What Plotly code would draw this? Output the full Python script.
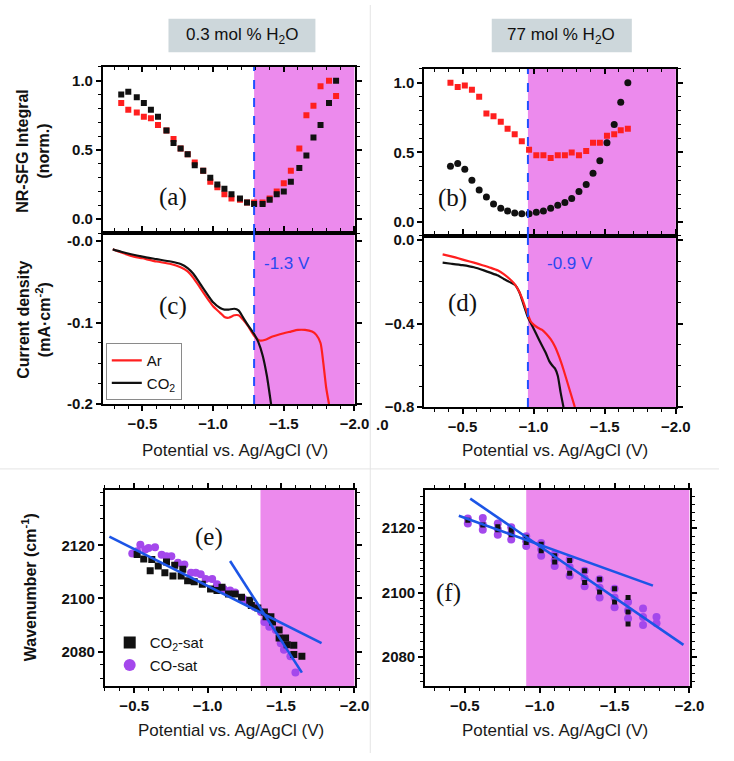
import plotly.graph_objects as go

W, H = 734, 761

# ---------------- data ----------------
# (a) NR-SFG integral, 0.3 mol % H2O
a_pot = [-0.35, -0.40, -0.46, -0.51, -0.56, -0.61, -0.67, -0.72, -0.77, -0.82, -0.87, -0.93, -0.98, -1.03,
         -1.08, -1.13, -1.19, -1.24, -1.29, -1.35, -1.40, -1.45, -1.50, -1.55, -1.61, -1.66, -1.71, -1.76,
         -1.82, -1.87]
a_co2 = [0.90, 0.92, 0.88, 0.84, 0.79, 0.74, 0.64, 0.55, 0.51, 0.47, 0.39, 0.35, 0.30, 0.25,
         0.22, 0.18, 0.15, 0.12, 0.11, 0.11, 0.14, 0.18, 0.20, 0.27, 0.37, 0.46, 0.59, 0.68, 0.84, 1.00]
a_ar = [0.84, 0.79, 0.77, 0.74, 0.73, 0.68, 0.64, 0.58, 0.51, 0.47, 0.41, 0.35, 0.27, 0.23,
        0.18, 0.15, 0.14, 0.12, 0.12, 0.12, 0.15, 0.20, 0.26, 0.35, 0.51, 0.75, 0.82, 0.96, 1.00, 0.89]

# (b) NR-SFG integral, 77 mol % H2O
b_pot = [-0.415, -0.466, -0.516, -0.566, -0.617, -0.668, -0.718, -0.769, -0.817, -0.867, -0.917, -0.968,
         -1.019, -1.069, -1.120, -1.170, -1.220, -1.268, -1.319, -1.370, -1.418, -1.466, -1.516, -1.567,
         -1.613, -1.663]
b_ar = [1.00, 0.97, 0.98, 0.95, 0.90, 0.78, 0.76, 0.72, 0.67, 0.63, 0.58, 0.52, 0.48, 0.48, 0.46, 0.48,
        0.48, 0.50, 0.48, 0.51, 0.57, 0.57, 0.62, 0.63, 0.66, 0.67]
b_co2 = [0.40, 0.42, 0.38, 0.30, 0.23, 0.18, 0.13, 0.10, 0.08, 0.065, 0.06, 0.06, 0.07, 0.08, 0.10, 0.12,
         0.14, 0.17, 0.22, 0.27, 0.35, 0.44, 0.57, 0.70, 0.86, 1.00]

# (c) current density, 0.3 mol % H2O
c_co2_pot = [-0.29, -0.35, -0.42, -0.50, -0.60, -0.70, -0.77, -0.82, -0.86, -0.90, -0.93, -0.97, -1.00,
             -1.05, -1.08, -1.11, -1.15, -1.18, -1.20, -1.22, -1.25, -1.29, -1.32, -1.35, -1.38, -1.41]
c_co2_j = [-0.010, -0.013, -0.016, -0.019, -0.022, -0.025, -0.028, -0.033, -0.040, -0.050, -0.058,
           -0.068, -0.075, -0.082, -0.084, -0.084, -0.083, -0.085, -0.090, -0.096, -0.104, -0.114,
           -0.124, -0.140, -0.165, -0.200]
c_ar_pot = [-0.29, -0.35, -0.42, -0.50, -0.60, -0.70, -0.77, -0.82, -0.86, -0.90, -0.93, -0.97, -1.00,
            -1.05, -1.08, -1.11, -1.15, -1.18, -1.21, -1.25, -1.29, -1.33, -1.37, -1.42, -1.50, -1.55,
            -1.60, -1.65, -1.70, -1.73, -1.76, -1.78, -1.80, -1.82]
c_ar_j = [-0.010, -0.014, -0.018, -0.021, -0.025, -0.028, -0.032, -0.037, -0.045, -0.055, -0.063,
          -0.073, -0.080, -0.088, -0.093, -0.094, -0.091, -0.091, -0.096, -0.105, -0.116, -0.122,
          -0.121, -0.117, -0.113, -0.111, -0.109, -0.109, -0.111, -0.115, -0.125, -0.150, -0.180, -0.200]

# (d) current density, 77 mol % H2O
d_co2_pot = [-0.36, -0.42, -0.50, -0.58, -0.65, -0.70, -0.75, -0.79, -0.83, -0.87, -0.90, -0.93, -0.96,
             -0.99, -1.04, -1.085, -1.11, -1.13, -1.15, -1.17, -1.19, -1.21]
d_co2_j = [-0.108, -0.113, -0.120, -0.130, -0.145, -0.157, -0.170, -0.186, -0.200, -0.215, -0.25,
           -0.31, -0.37, -0.41, -0.48, -0.54, -0.58, -0.60, -0.615, -0.65, -0.73, -0.80]
d_ar_pot = [-0.36, -0.42, -0.47, -0.52, -0.58, -0.64, -0.70, -0.75, -0.79, -0.83, -0.86, -0.89, -0.92,
            -0.95, -0.98, -1.00, -1.03, -1.06, -1.09, -1.12, -1.15, -1.18, -1.21, -1.25, -1.29]
d_ar_j = [-0.068, -0.078, -0.087, -0.097, -0.108, -0.120, -0.133, -0.146, -0.163, -0.185, -0.205,
          -0.235, -0.28, -0.34, -0.39, -0.405, -0.42, -0.43, -0.45, -0.475, -0.51, -0.56, -0.62,
          -0.71, -0.80]

# (e) CO stretch wavenumber, 0.3 mol % H2O
e_co2_pot = [-0.52, -0.565, -0.609, -0.62, -0.664, -0.709, -0.72, -0.764, -0.776, -0.82, -0.831, -0.864,
             -0.909, -0.964, -1.02, -1.064, -1.098, -1.142, -1.187, -1.231, -1.287, -1.298, -1.342,
             -1.387, -1.398, -1.431, -1.442, -1.487, -1.487, -1.531, -1.542, -1.587, -1.587, -1.642]
e_co2_wn = [2116.6, 2114.9, 2110.4, 2114.7, 2112.2, 2109.7, 2113.7, 2108.5, 2112.5, 2108.5, 2111.0,
            2106.7, 2106.3, 2105.4, 2103.6, 2103.0, 2104.2, 2101.7, 2101.7, 2100.5, 2099.3, 2097.4,
            2096.4, 2094.9, 2093.1, 2093.1, 2091.2, 2088.1, 2085.1, 2085.1, 2082.6, 2082.4, 2078.9, 2078.3]
e_co_pot = [-0.487, -0.52, -0.542, -0.576, -0.598, -0.642, -0.687, -0.72, -0.753, -0.798, -0.842, -0.887,
            -0.92, -0.953, -0.987, -1.031, -1.064, -1.109, -1.153, -1.187, -1.242, -1.276, -1.32, -1.364,
            -1.387, -1.42, -1.464, -1.498, -1.52, -1.564, -1.598]
e_co_wn = [2116.9, 2117.8, 2120.2, 2118.4, 2119.0, 2119.3, 2116.5, 2115.9, 2115.9, 2113.5, 2112.8, 2109.7,
           2109.7, 2109.1, 2107.3, 2107.3, 2105.4, 2103.6, 2103.0, 2102.3, 2099.9, 2098.6, 2096.8, 2094.9,
           2091.2, 2089.4, 2088.1, 2083.2, 2080.7, 2078.3, 2072.1]
e_fit1_pot = [-0.331, -1.776]
e_fit1_wn = [2123.3, 2083.2]
e_fit2_pot = [-1.153, -1.642]
e_fit2_wn = [2114.1, 2072.1]

# (f) CO stretch wavenumber, 77 mol % H2O
f_co_pot = [-0.52, -0.52, -0.62, -0.62, -0.62, -0.72, -0.72, -0.72, -0.81, -0.81, -0.81, -0.91, -0.91, -0.91,
            -1.01, -1.01, -1.01, -1.10, -1.10, -1.10, -1.20, -1.20, -1.20, -1.30, -1.30, -1.30, -1.40, -1.40,
            -1.40, -1.50, -1.50, -1.50, -1.59, -1.59, -1.59, -1.69, -1.69, -1.69, -1.78, -1.78]
f_co_wn = [2123.0, 2121.5, 2123.2, 2121.2, 2119.5, 2121.5, 2119.8, 2118.0, 2120.3, 2118.5, 2116.5, 2117.5,
           2116.0, 2114.5, 2115.4, 2113.5, 2111.5, 2111.9, 2110.0, 2108.3, 2110.3, 2108.0, 2105.3, 2106.8,
           2104.5, 2102.0, 2104.2, 2101.5, 2098.5, 2101.2, 2098.5, 2095.5, 2097.1, 2094.5, 2092.0, 2095.1,
           2092.5, 2090.0, 2092.5, 2090.5]
f_co2_pot = [-0.52, -0.62, -0.72, -0.72, -0.81, -0.81, -0.91, -0.91, -1.01, -1.01, -1.10, -1.10, -1.20,
             -1.20, -1.30, -1.30, -1.40, -1.40, -1.50, -1.50, -1.59, -1.59, -1.59]
f_co2_wn = [2122.5, 2121.0, 2120.5, 2119.5, 2119.5, 2118.0, 2117.2, 2115.6, 2115.0, 2113.0, 2111.5, 2109.5,
            2110.0, 2106.0, 2106.8, 2103.2, 2104.2, 2100.2, 2101.2, 2097.1, 2098.5, 2094.0, 2090.3]
f_fit1_pot = [-0.46, -1.756]
f_fit1_wn = [2123.9, 2102.2]
f_fit2_pot = [-0.536, -1.96]
f_fit2_wn = [2129.2, 2083.8]

# onset potentials / shading starts
onset_left = -1.29
onset_right = -0.96
shade_e = -1.36
shade_f = -0.91

# ---------------- styling ----------------
RED = "#ff1f1f"
BLACK = "#111111"
PURPLE = "#a448ec"
PINK = "#ec8aed"
BLUE_D = "#1f4fff"
FIT = "#1c55e6"
SANS = "Liberation Sans, Arial, sans-serif"
SERIF = "Liberation Serif, Times New Roman, serif"


def px_x(p):
    return p / W


def px_y(p):
    return 1 - p / H


fig = go.Figure()

# (a)
fig.add_trace(go.Scatter(x=a_pot, y=a_ar, mode="markers", xaxis="x", yaxis="y", showlegend=False,
                         marker=dict(symbol="square", size=6, color=RED)))
fig.add_trace(go.Scatter(x=a_pot, y=a_co2, mode="markers", xaxis="x", yaxis="y", showlegend=False,
                         marker=dict(symbol="square", size=6, color=BLACK)))
# (b)
fig.add_trace(go.Scatter(x=b_pot, y=b_ar, mode="markers", xaxis="x2", yaxis="y2", showlegend=False,
                         marker=dict(symbol="square", size=6, color=RED)))
fig.add_trace(go.Scatter(x=b_pot, y=b_co2, mode="markers", xaxis="x2", yaxis="y2", showlegend=False,
                         marker=dict(symbol="circle", size=7, color=BLACK)))
# (c)
fig.add_trace(go.Scatter(x=c_ar_pot, y=c_ar_j, mode="lines", xaxis="x3", yaxis="y3", name="Ar",
                         line=dict(color=RED, width=2.2, shape="spline", smoothing=0.6), legend="legend"))
fig.add_trace(go.Scatter(x=c_co2_pot, y=c_co2_j, mode="lines", xaxis="x3", yaxis="y3", name="CO<sub>2</sub>",
                         line=dict(color=BLACK, width=2.2, shape="spline", smoothing=0.6), legend="legend"))
# (d)
fig.add_trace(go.Scatter(x=d_co2_pot, y=d_co2_j, mode="lines", xaxis="x4", yaxis="y4", showlegend=False,
                         line=dict(color=BLACK, width=2.2, shape="spline", smoothing=0.6)))
fig.add_trace(go.Scatter(x=d_ar_pot, y=d_ar_j, mode="lines", xaxis="x4", yaxis="y4", showlegend=False,
                         line=dict(color=RED, width=2.2, shape="spline", smoothing=0.6)))
# (e)
fig.add_trace(go.Scatter(x=e_co_pot, y=e_co_wn, mode="markers", xaxis="x5", yaxis="y5", name="CO-sat",
                         marker=dict(symbol="circle", size=8, color=PURPLE), legend="legend2"))
fig.add_trace(go.Scatter(x=e_co2_pot, y=e_co2_wn, mode="markers", xaxis="x5", yaxis="y5",
                         name="CO<sub>2</sub>-sat",
                         marker=dict(symbol="square", size=7, color=BLACK), legend="legend2"))
fig.add_trace(go.Scatter(x=e_fit1_pot, y=e_fit1_wn, mode="lines", xaxis="x5", yaxis="y5", showlegend=False,
                         line=dict(color=FIT, width=2.6)))
fig.add_trace(go.Scatter(x=e_fit2_pot, y=e_fit2_wn, mode="lines", xaxis="x5", yaxis="y5", showlegend=False,
                         line=dict(color=FIT, width=2.6)))
# (f)
fig.add_trace(go.Scatter(x=f_co_pot, y=f_co_wn, mode="markers", xaxis="x6", yaxis="y6", showlegend=False,
                         marker=dict(symbol="circle", size=8, color=PURPLE)))
fig.add_trace(go.Scatter(x=f_co2_pot, y=f_co2_wn, mode="markers", xaxis="x6", yaxis="y6", showlegend=False,
                         marker=dict(symbol="square", size=5, color=BLACK)))
fig.add_trace(go.Scatter(x=f_fit1_pot, y=f_fit1_wn, mode="lines", xaxis="x6", yaxis="y6", showlegend=False,
                         line=dict(color=FIT, width=2.6)))
fig.add_trace(go.Scatter(x=f_fit2_pot, y=f_fit2_wn, mode="lines", xaxis="x6", yaxis="y6", showlegend=False,
                         line=dict(color=FIT, width=2.6)))

tickfont = dict(family=SANS, size=15, color="#111", weight="bold")


def xax(domain, rng, anchor, labels=True, ticks="outside"):
    return dict(domain=domain, range=rng, anchor=anchor, showline=True, linecolor="black", linewidth=1.8,
                mirror="ticks", ticks=ticks, ticklen=5, tickwidth=1.5, tickcolor="black",
                tickvals=[-0.5, -1.0, -1.5, -2.0], tickformat=".1f", showticklabels=labels,
                tickfont=tickfont, showgrid=False, zeroline=False,
                minor=dict(dtick=0.1, tick0=0, ticks=ticks, ticklen=3, tickwidth=1.2, tickcolor="black"))


def yax(domain, rng, anchor, vals, fmt, minor_dtick, texts=None):
    d = dict(domain=domain, range=rng, anchor=anchor, showline=True, linecolor="black", linewidth=1.8,
             mirror="ticks", ticks="outside", ticklen=5, tickwidth=1.5, tickcolor="black",
             tickvals=vals, tickformat=fmt, tickfont=tickfont, showgrid=False, zeroline=False,
             minor=dict(dtick=minor_dtick, tick0=0, ticks="outside", ticklen=3, tickwidth=1.2,
                        tickcolor="black"))
    if texts is not None:
        d["ticktext"] = texts
    return d


L = [px_x(105), px_x(362)]
R = [px_x(433), px_x(690)]
RF = [px_x(434), px_x(704)]

fig.update_layout(
    width=W, height=H, margin=dict(l=0, r=0, t=0, b=0),
    paper_bgcolor="white", plot_bgcolor="white",
    xaxis=xax(L, [-0.22, -2.001], "y", labels=False, ticks="inside"),
    yaxis=yax([px_y(232), px_y(63)], [-0.1, 1.1], "x", [0, 0.5, 1.0], ".1f", 0.1),
    xaxis2=xax(R, [-0.23, -2.001], "y2", labels=False, ticks="inside"),
    yaxis2=yax([px_y(235), px_y(65)], [-0.1, 1.1], "x2", [0, 0.5, 1.0], ".1f", 0.1),
    xaxis3=xax(L, [-0.22, -2.001], "y3"),
    yaxis3=yax([px_y(406), px_y(232)], [-0.2, 0.01], "x3", [0, -0.1, -0.2], ".1f", 0.025,
               texts=["-0.0", "-0.1", "-0.2"]),
    xaxis4=xax(R, [-0.23, -2.001], "y4"),
    yaxis4=yax([px_y(409), px_y(235)], [-0.8, 0.02], "x4", [0, -0.4, -0.8], ".1f", 0.1),
    xaxis5=xax([px_x(107), px_x(362)], [-0.3, -2.001], "y5"),
    yaxis5=yax([px_y(693), px_y(493)], [2067, 2141], "x5", [2080, 2100, 2120], "d", 5),
    xaxis6=xax(RF, [-0.235, -2.001], "y6"),
    yaxis6=yax([px_y(693), px_y(493)], [2071, 2132], "x6", [2080, 2100, 2120], "d", 2.5),
    legend=dict(x=px_x(108), y=px_y(344), xanchor="left", yanchor="top", bgcolor="white",
                bordercolor="#8a8a8a", borderwidth=1, font=dict(family=SANS, size=15, color="#111"),
                tracegroupgap=0, itemwidth=30),
    legend2=dict(x=px_x(112), y=px_y(632), xanchor="left", yanchor="top", bgcolor="rgba(0,0,0,0)",
                 borderwidth=0, font=dict(family=SANS, size=15, color="#111"), traceorder="reversed",
                 itemsizing="constant"),
)

shapes = []
# pink shaded regions
for xr, yr, x0 in [("x", "y", onset_left), ("x3", "y3", onset_left), ("x2", "y2", onset_right),
                   ("x4", "y4", onset_right), ("x5", "y5", shade_e), ("x6", "y6", shade_f)]:
    shapes.append(dict(type="rect", xref=xr, yref=yr + " domain", x0=x0, x1=-2.001, y0=0, y1=1,
                       fillcolor=PINK, line=dict(width=0), layer="below"))
# dashed onset lines
for xr, yr, x0 in [("x", "y", onset_left), ("x3", "y3", onset_left), ("x2", "y2", onset_right),
                   ("x4", "y4", onset_right)]:
    shapes.append(dict(type="line", xref=xr, yref=yr + " domain", x0=x0, x1=x0, y0=0, y1=1,
                       line=dict(color=BLUE_D, width=2, dash="dash"), layer="above"))
# separators
shapes.append(dict(type="line", xref="paper", yref="paper", x0=px_x(378), x1=px_x(378), y0=0, y1=1,
                   line=dict(color="#e4e4e4", width=1)))
shapes.append(dict(type="line", xref="paper", yref="paper", x0=0, x1=1, y0=px_y(472), y1=px_y(472),
                   line=dict(color="#e4e4e4", width=1)))
# header boxes
for x0, x1 in [(172, 322), (502, 645)]:
    shapes.append(dict(type="rect", xref="paper", yref="paper", x0=px_x(x0), x1=px_x(x1),
                       y0=px_y(48), y1=px_y(14), fillcolor="#cdd7db", line=dict(width=0)))
fig.update_layout(shapes=shapes)

ann = []


def add_text(text, cx, cy, font, angle=0):
    ann.append(dict(text=text, x=px_x(cx), y=px_y(cy), xref="paper", yref="paper", showarrow=False,
                    xanchor="center", yanchor="middle", textangle=angle, font=font))


hdr_font = dict(family="Liberation Sans Narrow, " + SANS, size=17, color="#111")
add_text("0.3 mol % H<sub>2</sub>O", 247, 32, hdr_font)
add_text("77 mol % H<sub>2</sub>O", 573, 32, hdr_font)

ytitle_font = dict(family=SANS, size=16, color="#111", weight="bold")
add_text("NR-SFG Integral<br>(norm.)", 34, 148, ytitle_font, -90)
add_text("Current density<br>(mA·cm<sup>-2</sup>)", 34, 320, ytitle_font, -90)
add_text("Wavenumber (cm<sup>-1</sup>)", 30, 592, ytitle_font, -90)

xtitle_font = dict(family=SANS, size=17, color="#1a1a1a")
for cx, cy in [(240, 453), (567, 453), (236, 738), (567, 738)]:
    add_text("Potential vs. Ag/AgCl (V)", cx, cy, xtitle_font)

# clipped tick label remnant between panels
add_text(".0", 390, 427, tickfont)

letter_font = dict(family=SERIF, size=25, color="#111")
for t, cx, cy in [("(a)", 177, 195), ("(b)", 462, 196), ("(c)", 177, 306), ("(d)", 472, 303),
                  ("(e)", 213, 541), ("(f)", 458, 598)]:
    add_text(t, cx, cy, letter_font)

vfont = dict(family=SANS, size=17, color="#2a48f0")
add_text("-1.3 V", 293, 263, vfont)
add_text("-0.9 V", 582, 263, vfont)
fig.update_layout(annotations=ann)

fig.write_html("out.html", config={"displayModeBar": False},
               post_script="document.body.style.margin='0px';")
